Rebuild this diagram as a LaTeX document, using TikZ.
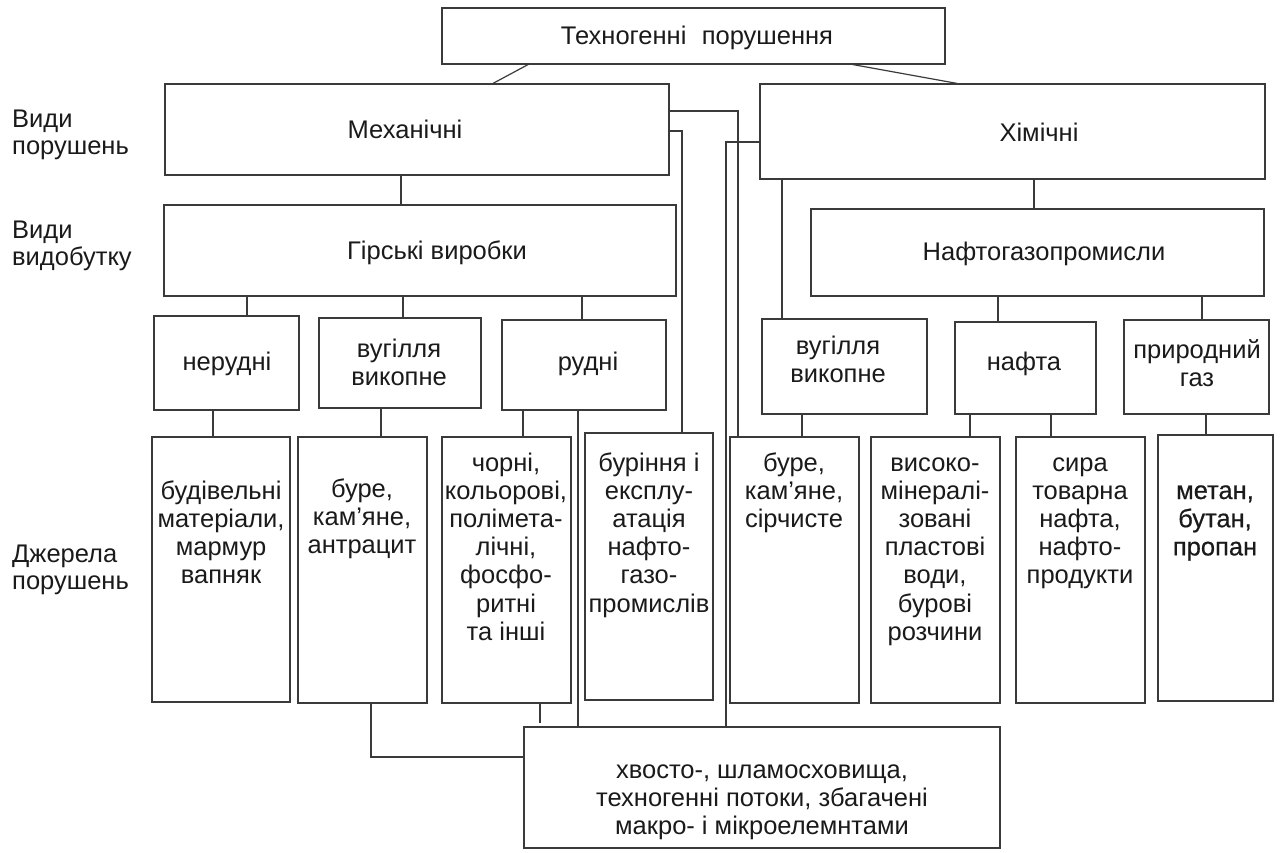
\documentclass[tikz,border=0pt]{standalone}
\usepackage{fontspec}
\setmainfont{Liberation Sans}
\newfontfamily\boldish[FakeBold=0.6]{Liberation Sans}
\usetikzlibrary{fit}
\definecolor{lc}{HTML}{3A3A3A}
\definecolor{tc}{HTML}{1A1A1A}
\newcommand{\mlc}[1]{\begin{tabular}[t]{@{}c@{}}#1\end{tabular}}
\newcommand{\mll}[1]{\begin{tabular}[t]{@{}l@{}}#1\end{tabular}}
\newcommand{\vcon}[3]{\coordinate (vx) at (#3,0); \draw[ln] (#1.south -| vx) -- (#2.north -| vx);}
\begin{document}
\begin{tikzpicture}[x=1pt,y=-1pt,
  bx/.style={draw=lc, line width=1.2pt, inner sep=0pt},
  ln/.style={draw=lc, line width=1.2pt},
  tx/.style={font=\fontsize{25.5}{28.2}\selectfont, text=tc, inner sep=0pt, anchor=base},
  lt/.style={font=\fontsize{25.5}{27.5}\selectfont, text=tc, inner sep=0pt, anchor=base west}]
\useasboundingbox (0,0) rectangle (1287,852);
% boxes
\node[bx, fit={(442,8)(945,64)}] (top) {};
\node[bx, fit={(165,84)(669,175)}] (mech) {};
\node[bx, fit={(760,84)(1265,179)}] (chem) {};
\node[bx, fit={(164,205)(676,296)}] (hirski) {};
\node[bx, fit={(811,209)(1264,296)}] (nafto) {};
\node[bx, fit={(154,316)(299,410)}] (nerud) {};
\node[bx, fit={(319,318)(481,408)}] (vugL) {};
\node[bx, fit={(502,320)(666,410)}] (rudni) {};
\node[bx, fit={(762,319)(927,414)}] (vugR) {};
\node[bx, fit={(955,322)(1096,414)}] (nafta) {};
\node[bx, fit={(1124,320)(1269,414)}] (gaz) {};
\node[bx, fit={(152,437)(290,702)}] (bud) {};
\node[bx, fit={(298,437)(427,703)}] (bureL) {};
\node[bx, fit={(442,437)(571,703)}] (chorni) {};
\node[bx, fit={(585,433)(713,700)}] (burin) {};
\node[bx, fit={(730,437)(859,703)}] (bureR) {};
\node[bx, fit={(871,437)(1000,703)}] (vysok) {};
\node[bx, fit={(1016,437)(1145,703)}] (syra) {};
\node[bx, fit={(1158,435)(1273,701)}] (metan) {};
\node[bx, fit={(524,727)(1000,848)}] (hvosto) {};
% texts
\node[tx] (ttop) at (697,44) {Техногенні\hspace{0.6em}порушення};
\node[tx] (tmech) at (405,138) {Механічні};
\node[tx] (tchem) at (1039,141) {Хімічні};
\node[tx] (thirski) at (437,259) {Гірські виробки};
\node[tx] (tnafto) at (1044,260) {Нафтогазопромисли};
\node[tx] (tnerud) at (227,370) {нерудні};
\node[tx] (tvugL) at (399,357) {\mlc{вугілля\\викопне}};
\node[tx] (trudni) at (588,370) {рудні};
\node[tx] (tvugR) at (838,354) {\mlc{вугілля\\викопне}};
\node[tx] (tnafta) at (1024,370) {нафта};
\node[tx] (tgaz) at (1197,358) {\mlc{природний\\газ}};
\node[tx] (tbud) at (221,499) {\mlc{будівельні\\матеріали,\\мармур\\вапняк}};
\node[tx] (tbureL) at (362,497) {\mlc{буре,\\кам’яне,\\антрацит}};
\node[tx] (tchorni) at (506,471) {\mlc{чорні,\\кольорові,\\поліметa-\\лічні,\\фосфо-\\ритні\\та інші}};
\node[tx] (tburin) at (649,471) {\mlc{буріння і\\експлу-\\атація\\нафто-\\газо-\\промислів}};
\node[tx] (tbureR) at (794,471) {\mlc{буре,\\кам’яне,\\сірчисте}};
\node[tx] (tvysok) at (935,471) {\mlc{високо-\\мінералі-\\зовані\\пластові\\води,\\бурові\\розчини}};
\node[tx] (tsyra) at (1080,471) {\mlc{сира\\товарна\\нафта,\\нафто-\\продукти}};
\node[tx] (tmetan) at (1215,499) {\boldish\mlc{метан,\\бутан,\\пропан}};
\node[tx] (thvosto) at (762,778) {\mlc{хвосто-, шламосховища,\\техногенні потоки, збагачені\\макро- і мікроелемнтами}};
\node[lt] (l1) at (12,127) {\mll{Види\\порушень}};
\node[lt] (l2) at (12,238) {\mll{Види\\видобутку}};
\node[lt] (l3) at (12,562) {\mll{Джерела\\порушень}};
% connectors
\coordinate (a1) at (528,0); \coordinate (a2) at (493,0);
\draw[ln] (top.south -| a1) -- (mech.north -| a2);
\coordinate (b1) at (853,0); \coordinate (b2) at (957,0);
\draw[ln] (top.south -| b1) -- (chem.north -| b2);
\vcon{mech}{hirski}{401}
\vcon{chem}{nafto}{1034}
\vcon{chem}{vugR}{782}
\vcon{hirski}{nerud}{247}
\vcon{hirski}{vugL}{403}
\vcon{hirski}{rudni}{582}
\vcon{nafto}{nafta}{998}
\vcon{nafto}{gaz}{1202}
\vcon{nerud}{bud}{213}
\vcon{vugL}{bureL}{381}
\vcon{rudni}{chorni}{523}
\vcon{rudni}{hvosto}{578}
\vcon{vugR}{bureR}{802}
\vcon{nafta}{vysok}{970}
\vcon{nafta}{syra}{1051}
\vcon{gaz}{metan}{1206}
\coordinate (e1) at (0,111); \coordinate (x1) at (738,0);
\draw[ln] (mech.east |- e1) -| (bureR.north -| x1);
\coordinate (e2) at (0,131); \coordinate (x2) at (682,0);
\draw[ln] (mech.east |- e2) -| (burin.north -| x2);
\coordinate (e3) at (0,142); \coordinate (x3) at (726,0);
\draw[ln] (chem.west |- e3) -| (hvosto.north -| x3);
\coordinate (e4) at (0,757); \coordinate (x4) at (371,0);
\draw[ln] (bureL.south -| x4) |- (hvosto.west |- e4);
\coordinate (x5) at (540,0); \coordinate (stub) at (540,723);
\draw[ln] (chorni.south -| x5) -- (stub);
\end{tikzpicture}
\end{document}
